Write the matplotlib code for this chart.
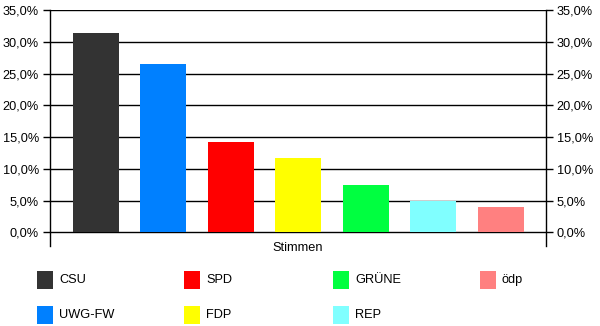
import matplotlib.pyplot as plt
from matplotlib.patches import Rectangle
from matplotlib.ticker import FuncFormatter

plt.rcParams['font.family'] = ['Liberation Sans', 'DejaVu Sans']

parties = ["CSU", "UWG-FW", "SPD", "FDP", "GRÜNE", "REP", "ödp"]
votes = [31.4, 26.5, 14.3, 11.7, 7.5, 4.9, 4.0]
colors = ["#333333", "#0080FF", "#FF0000", "#FFFF00", "#00FF40", "#80FFFF", "#FF8080"]
yticks = [0, 5, 10, 15, 20, 25, 30, 35]

W, H = 600, 326
FS = 9.2
fig = plt.figure(figsize=(W / 100, H / 100), dpi=100)
# axes box in pixels: x 50..545.5, y 10.3..246
ax = fig.add_axes([50 / W, 1 - 246 / H, 495.5 / W, 235.7 / H])

x = list(range(len(parties)))
ax.bar(x, votes, width=0.68, color=colors, zorder=3)

ax.set_xlim(-0.68, 6.66)
ax.set_ylim(-2.16, 35)
ax.set_yticks(yticks)
ax.yaxis.set_major_formatter(FuncFormatter(lambda v, p: f"{v:.1f}".replace(".", ",") + "%"))
ax.tick_params(axis='y', left=True, right=True, labelleft=True, labelright=True,
               direction='out', length=5, width=1, labelsize=FS, pad=3, color='black')
ax.set_xticks([])
ax.grid(axis='y', color='black', linewidth=1, zorder=1)

ax.spines['bottom'].set_visible(False)
ax.spines['top'].set_visible(False)
for s in ['left', 'right']:
    ax.spines[s].set_linewidth(1)
    ax.spines[s].set_color('black')

ax.text(0.5, -0.0085, "Stimmen", transform=ax.transAxes, ha='center', va='center', fontsize=FS)

# legend, column-major in 4 columns
col_x = [37, 184, 333, 480]
row_y = [280, 315]
for i, (name, c) in enumerate(zip(parties, colors)):
    cx = col_x[i // 2]
    cy = row_y[i % 2]
    fig.add_artist(Rectangle((cx / W, 1 - (cy + 9) / H), 16 / W, 18 / H,
                             transform=fig.transFigure, facecolor=c, edgecolor='none'))
    fig.text((cx + 22) / W, 1 - cy / H, name, ha='left', va='center', fontsize=FS)

fig.savefig("out.png", dpi=100)
